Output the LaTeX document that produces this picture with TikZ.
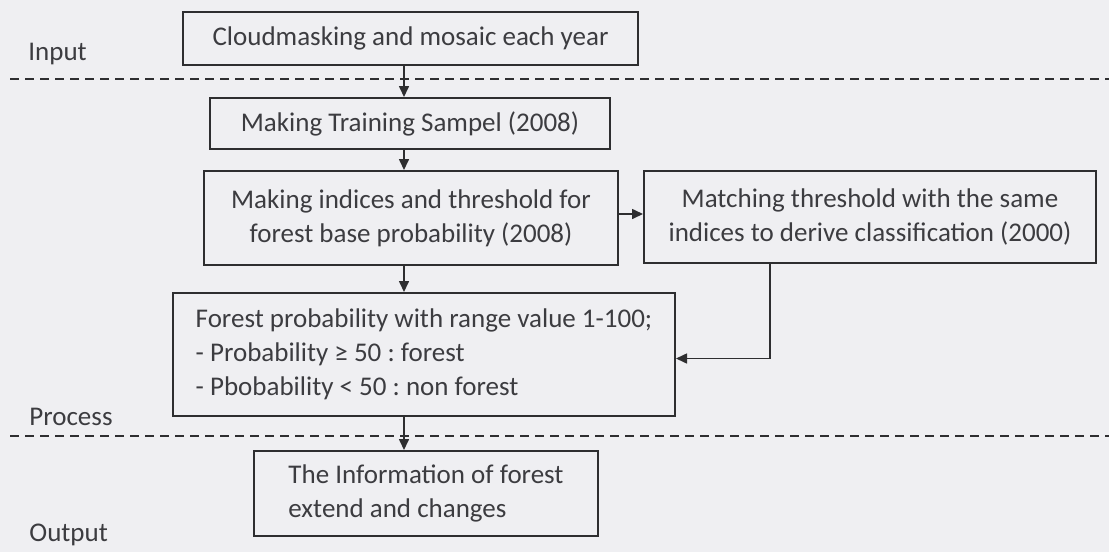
\documentclass[tikz,border=0pt]{standalone}
\usepackage{fontspec}
\setmainfont{Carlito}
\usetikzlibrary{arrows.meta}
\definecolor{linecol}{HTML}{2E2E30}
\definecolor{txtcol}{HTML}{3C3C40}
\definecolor{bgcol}{HTML}{EFEFF2}
\frenchspacing

\begin{document}
\begin{tikzpicture}[x=0.5pt,y=-0.5pt]
\tikzstyle{box}=[rectangle, draw=linecol, line width=1pt, text=txtcol, inner sep=0pt,
    font=\fontsize{13.5}{17}\selectfont]
\tikzstyle{arr}=[draw=linecol, line width=0.8pt, -{Triangle[length=5.5pt,width=5pt]}]
\tikzstyle{lbl}=[text=txtcol, font=\fontsize{13.5}{17}\selectfont, anchor=west, inner sep=0pt]
\tikzstyle{sep}=[draw=linecol, line width=1pt, dash pattern=on 4.5pt off 3pt]

\fill[bgcol] (0,0) rectangle (1109,552);
\useasboundingbox (0,0) rectangle (1109,552);

    \node[box, minimum width = 227.5pt,
    minimum height = 26.5pt] (cm) at (410.5,38.5) {Cloudmasking and mosaic each year};
 \node[box, minimum width = 200pt,
    minimum height = 25.5pt] (ts) at (410,123.5) {Making Training Sampel (2008)};
 \node[box, align=center, minimum width = 207pt,
    minimum height = 47pt] (ix) at (411,218) {Making indices and threshold for\\forest base probability (2008)};
 \node[box, align=center, minimum width = 226pt,
    minimum height = 46pt] (mt) at (870,217) {Matching threshold with the same\\indices to derive classification (2000)};
 \node[box, align=left, minimum width = 251pt,
    minimum height = 61.5pt] (fp) at (424,354.5) {Forest probability with range value 1-100;\\- Probability ≥ 50 : forest\\- Pbobability < 50 : non forest};
 \node[box, align=left, minimum width = 172pt,
    minimum height = 42.5pt] (io) at (426,493.5) {The Information of forest\\extend and changes};

\node[lbl] (I) at (28,54) {Input};
\node[lbl] (P) at (29,417) {Process};
\node[lbl] (O) at (29,535) {Output};

\draw[sep] (10,79) -- (1109,79);
\draw[sep] (10,436) -- (1109,436);

\coordinate (ax) at (404,0);
\draw[arr] (cm.south -| ax) -- (ts.north -| ax);
\draw[arr] (ts.south -| ax) -- (ix.north -| ax);
\draw[arr] (ix.south -| ax) -- (fp.north -| ax);
\draw[arr] (fp.south -| ax) -- (io.north -| ax);
\draw[arr] ([yshift=2pt]ix.east) -- ([yshift=2pt]ix.east -| mt.west);
\draw[arr] ([xshift=-50pt]mt.south) |- ([yshift=-2pt]fp.east);

\end{tikzpicture}
\end{document}
